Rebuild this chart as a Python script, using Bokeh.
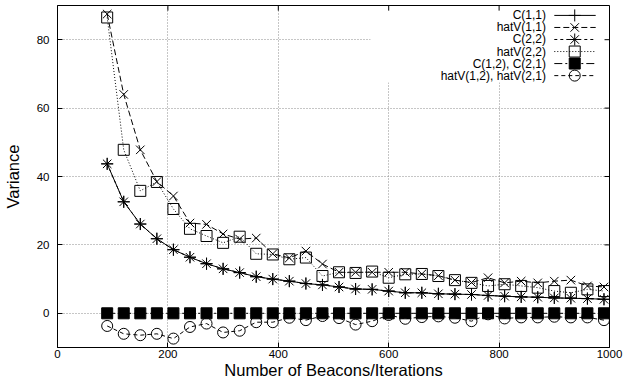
from bokeh.plotting import figure
from bokeh.models import Range1d, FixedTicker, BoxAnnotation
from bokeh.core.properties import value
from bokeh.embed import file_html
from bokeh.resources import INLINE

# ---- data ----
iterations = [90, 120, 150, 180, 210, 240, 270, 300, 330, 360, 390, 420, 450, 480, 510,
              540, 570, 600, 630, 660, 690, 720, 750, 780, 810, 840, 870, 900, 930, 960, 990]
c11 = [43.7, 32.6, 26.1, 21.8, 18.6, 16.4, 14.5, 13.0, 11.9, 10.7, 10.0, 9.4, 8.7, 8.3, 7.7,
       7.1, 7.0, 6.5, 6.0, 6.0, 5.7, 5.6, 5.5, 5.2, 5.0, 4.8, 4.7, 4.5, 4.4, 4.3, 4.1]
hatv11 = [87.5, 64.0, 47.8, 38.5, 34.3, 26.4, 26.0, 23.2, 21.7, 22.0, 17.4, 16.2, 18.2, 14.4, 12.0,
          12.0, 12.0, 12.0, 12.0, 11.5, 11.0, 9.7, 9.0, 10.4, 8.9, 9.4, 8.9, 9.4, 9.7, 8.0, 7.7]
c22 = [43.7, 32.6, 26.1, 21.8, 18.6, 16.4, 14.5, 13.0, 11.9, 10.7, 10.0, 9.4, 8.7, 8.3, 7.7,
       7.1, 7.0, 6.5, 6.0, 6.0, 5.7, 5.6, 5.5, 5.2, 5.0, 4.8, 4.7, 4.5, 4.4, 4.3, 4.1]
hatv22 = [86.5, 47.8, 35.8, 38.4, 30.5, 24.7, 22.6, 20.6, 22.4, 17.4, 17.2, 15.8, 16.3, 10.9, 12.0,
          11.8, 12.2, 10.4, 11.4, 11.5, 10.9, 9.7, 8.9, 8.0, 8.5, 8.0, 7.5, 6.5, 6.0, 7.0, 6.5]
c12 = [0.0, 0.0, 0.0, 0.0, 0.0, 0.0, 0.0, 0.0, 0.0, 0.0, 0.0, 0.0, 0.0, 0.0, 0.0,
       0.0, 0.0, 0.0, 0.0, 0.0, 0.0, 0.0, 0.0, 0.0, 0.0, 0.0, 0.0, 0.0, 0.0, 0.0, 0.0]
hatv12 = [-3.7, -6.0, -6.4, -6.0, -7.4, -4.0, -3.0, -5.6, -5.1, -2.6, -2.6, -1.3, -2.0, -0.8, -1.4,
          -3.3, -2.3, -0.5, -1.6, -1.1, -0.9, -1.3, -2.3, -0.3, -1.5, -1.2, -1.2, -1.0, -1.2, -1.2, -2.0]
series_labels = ["C(1,1)", "hatV(1,1)", "C(2,2)", "hatV(2,2)", "C(1,2), C(2,1)", "hatV(1,2), hatV(2,1)"]
x_ticks = [0, 200, 400, 600, 800, 1000]
y_ticks = [0, 20, 40, 60, 80]

FONT = "Liberation Sans"
X0, X1, Y0, Y1 = 0, 1000, -10, 90

p = figure(width=623, height=381, x_range=Range1d(X0, X1), y_range=Range1d(Y0, Y1),
           output_backend="svg", toolbar_location=None,
           min_border_left=50, min_border_right=14, min_border_top=5, min_border_bottom=0)
p.background_fill_color = "white"
p.border_fill_color = "white"
p.outline_line_color = "black"
p.outline_line_width = 1

# grid
p.xgrid.ticker = FixedTicker(ticks=x_ticks)
p.ygrid.ticker = FixedTicker(ticks=y_ticks)
for g in (p.xgrid, p.ygrid):
    g.grid_line_color = "#8c8c8c"
    g.grid_line_dash = "1 2"
    g.grid_line_width = 1

# key area clears the grid (as gnuplot does)
p.add_layout(BoxAnnotation(left=567, right=998, bottom=67.5, top=89.6,
                           fill_color="white", fill_alpha=1.0, line_alpha=0, level="underlay"))

# axes
p.xaxis.ticker = FixedTicker(ticks=x_ticks)
p.yaxis.ticker = FixedTicker(ticks=y_ticks)
for ax in (p.xaxis[0], p.yaxis[0]):
    ax.major_tick_in = 5
    ax.major_tick_out = 0
    ax.minor_tick_in = 0
    ax.minor_tick_out = 0
    ax.axis_line_color = "black"
    ax.major_tick_line_color = "black"
    ax.major_label_text_font = FONT
    ax.major_label_text_font_size = "11.5px"
    ax.major_label_text_color = "black"
    ax.axis_label_text_font = FONT
    ax.axis_label_text_font_size = "16.5px"
    ax.axis_label_text_font_style = "normal"
    ax.axis_label_text_color = "black"
p.xaxis.axis_label = "Number of Beacons/Iterations"
p.yaxis.axis_label = "Variance"
p.xaxis.major_label_standoff = 2
p.xaxis.axis_label_standoff = 0
p.yaxis.major_label_standoff = 8
p.yaxis.axis_label_standoff = 12

# mirrored inward ticks on the top and right borders (built from the tick lists)
tick_dy = 1.5
tick_dx = 9
p.segment(x0=x_ticks, y0=[Y1] * len(x_ticks), x1=x_ticks, y1=[Y1 - tick_dy] * len(x_ticks),
          line_color="black", line_width=1)
p.segment(x0=[X1] * len(y_ticks), y0=y_ticks, x1=[X1 - tick_dx] * len(y_ticks), y1=y_ticks,
          line_color="black", line_width=1)

styles = [
    (c11, "solid", "cross", 12, None),
    (hatv11, "6 3", "x", 12, None),
    (c22, "3 3", "asterisk", 12, None),
    (hatv22, "1 2", "square", 11, None),
    (c12, "8 3 2 3", "square", 11, "black"),
    (hatv12, "4 3", "circle", 11, None),
]

for vals, dash, marker, size, fill in styles:
    p.line(iterations, vals, line_color="black", line_width=1, line_dash=dash)
    p.scatter(iterations, vals, marker=marker, size=size, line_color="black", line_width=1,
              fill_color=fill, fill_alpha=1.0 if fill else 0.0)

# key (gnuplot style: label right-aligned, sample to the right)
key_text_x = 885
key_line_x0, key_line_x1, key_mark_x = 900, 975, 937
key_y0, key_dy = 87.1, 3.52
for i, ((vals, dash, marker, size, fill), lab) in enumerate(zip(styles, series_labels)):
    yk = key_y0 - key_dy * i
    p.line([key_line_x0, key_line_x1], [yk, yk], line_color="black", line_width=1, line_dash=dash)
    p.scatter([key_mark_x], [yk], marker=marker, size=size, line_color="black", line_width=1,
              fill_color=fill, fill_alpha=1.0 if fill else 0.0)
    p.text([key_text_x], [yk], text=[lab], text_align="right", text_baseline="middle",
           text_font=value(FONT), text_font_size=value("12px"), text_color="black")

open("out.html", "w").write(file_html(p, INLINE))
